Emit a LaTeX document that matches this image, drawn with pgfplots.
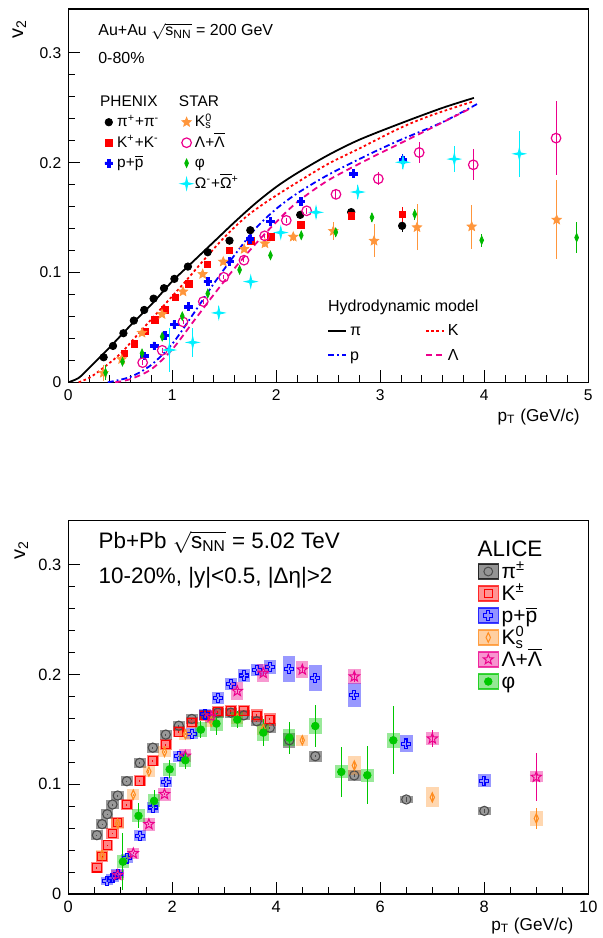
\documentclass[border=0pt]{standalone}
\usepackage{fontspec}
\setmainfont{Liberation Sans}
\usepackage{pgfplots}
\usepackage{pgfplotstable}
\pgfplotsset{compat=1.18}

\definecolor{rorange}{RGB}{255,150,60}
\definecolor{rgreen}{RGB}{0,185,0}
\definecolor{rcyan}{RGB}{0,240,255}
\definecolor{aorange}{RGB}{255,140,30}
\definecolor{agreen}{RGB}{0,200,0}

% ROOT-like markers
\pgfdeclareplotmark{fatplus}{%
  \pgfpathmoveto{\pgfpoint{-\pgfplotmarksize}{0.33\pgfplotmarksize}}%
  \pgfpathlineto{\pgfpoint{-0.33\pgfplotmarksize}{0.33\pgfplotmarksize}}%
  \pgfpathlineto{\pgfpoint{-0.33\pgfplotmarksize}{\pgfplotmarksize}}%
  \pgfpathlineto{\pgfpoint{0.33\pgfplotmarksize}{\pgfplotmarksize}}%
  \pgfpathlineto{\pgfpoint{0.33\pgfplotmarksize}{0.33\pgfplotmarksize}}%
  \pgfpathlineto{\pgfpoint{\pgfplotmarksize}{0.33\pgfplotmarksize}}%
  \pgfpathlineto{\pgfpoint{\pgfplotmarksize}{-0.33\pgfplotmarksize}}%
  \pgfpathlineto{\pgfpoint{0.33\pgfplotmarksize}{-0.33\pgfplotmarksize}}%
  \pgfpathlineto{\pgfpoint{0.33\pgfplotmarksize}{-\pgfplotmarksize}}%
  \pgfpathlineto{\pgfpoint{-0.33\pgfplotmarksize}{-\pgfplotmarksize}}%
  \pgfpathlineto{\pgfpoint{-0.33\pgfplotmarksize}{-0.33\pgfplotmarksize}}%
  \pgfpathlineto{\pgfpoint{-\pgfplotmarksize}{-0.33\pgfplotmarksize}}%
  \pgfpathclose\pgfusepathqfillstroke}
\pgfdeclareplotmark{openplus}{%
  \pgfpathmoveto{\pgfpoint{-\pgfplotmarksize}{0.33\pgfplotmarksize}}%
  \pgfpathlineto{\pgfpoint{-0.33\pgfplotmarksize}{0.33\pgfplotmarksize}}%
  \pgfpathlineto{\pgfpoint{-0.33\pgfplotmarksize}{\pgfplotmarksize}}%
  \pgfpathlineto{\pgfpoint{0.33\pgfplotmarksize}{\pgfplotmarksize}}%
  \pgfpathlineto{\pgfpoint{0.33\pgfplotmarksize}{0.33\pgfplotmarksize}}%
  \pgfpathlineto{\pgfpoint{\pgfplotmarksize}{0.33\pgfplotmarksize}}%
  \pgfpathlineto{\pgfpoint{\pgfplotmarksize}{-0.33\pgfplotmarksize}}%
  \pgfpathlineto{\pgfpoint{0.33\pgfplotmarksize}{-0.33\pgfplotmarksize}}%
  \pgfpathlineto{\pgfpoint{0.33\pgfplotmarksize}{-\pgfplotmarksize}}%
  \pgfpathlineto{\pgfpoint{-0.33\pgfplotmarksize}{-\pgfplotmarksize}}%
  \pgfpathlineto{\pgfpoint{-0.33\pgfplotmarksize}{-0.33\pgfplotmarksize}}%
  \pgfpathlineto{\pgfpoint{-\pgfplotmarksize}{-0.33\pgfplotmarksize}}%
  \pgfpathclose\pgfusepathqstroke}
\pgfdeclareplotmark{fstar}{%
  \pgfpathmoveto{\pgfpointpolar{90}{\pgfplotmarksize}}%
  \pgfpathlineto{\pgfpointpolar{126}{0.45\pgfplotmarksize}}%
  \pgfpathlineto{\pgfpointpolar{162}{\pgfplotmarksize}}%
  \pgfpathlineto{\pgfpointpolar{198}{0.45\pgfplotmarksize}}%
  \pgfpathlineto{\pgfpointpolar{234}{\pgfplotmarksize}}%
  \pgfpathlineto{\pgfpointpolar{270}{0.45\pgfplotmarksize}}%
  \pgfpathlineto{\pgfpointpolar{306}{\pgfplotmarksize}}%
  \pgfpathlineto{\pgfpointpolar{342}{0.45\pgfplotmarksize}}%
  \pgfpathlineto{\pgfpointpolar{18}{\pgfplotmarksize}}%
  \pgfpathlineto{\pgfpointpolar{54}{0.45\pgfplotmarksize}}%
  \pgfpathclose\pgfusepathqfillstroke}
\pgfdeclareplotmark{ostar}{%
  \pgfpathmoveto{\pgfpointpolar{90}{\pgfplotmarksize}}%
  \pgfpathlineto{\pgfpointpolar{126}{0.42\pgfplotmarksize}}%
  \pgfpathlineto{\pgfpointpolar{162}{\pgfplotmarksize}}%
  \pgfpathlineto{\pgfpointpolar{198}{0.42\pgfplotmarksize}}%
  \pgfpathlineto{\pgfpointpolar{234}{\pgfplotmarksize}}%
  \pgfpathlineto{\pgfpointpolar{270}{0.42\pgfplotmarksize}}%
  \pgfpathlineto{\pgfpointpolar{306}{\pgfplotmarksize}}%
  \pgfpathlineto{\pgfpointpolar{342}{0.42\pgfplotmarksize}}%
  \pgfpathlineto{\pgfpointpolar{18}{\pgfplotmarksize}}%
  \pgfpathlineto{\pgfpointpolar{54}{0.42\pgfplotmarksize}}%
  \pgfpathclose\pgfusepathqstroke}
\pgfdeclareplotmark{star4}{%
  \pgfpathmoveto{\pgfpoint{0pt}{\pgfplotmarksize}}%
  \pgfpathlineto{\pgfpoint{0.18\pgfplotmarksize}{0.18\pgfplotmarksize}}%
  \pgfpathlineto{\pgfpoint{\pgfplotmarksize}{0pt}}%
  \pgfpathlineto{\pgfpoint{0.18\pgfplotmarksize}{-0.18\pgfplotmarksize}}%
  \pgfpathlineto{\pgfpoint{0pt}{-\pgfplotmarksize}}%
  \pgfpathlineto{\pgfpoint{-0.18\pgfplotmarksize}{-0.18\pgfplotmarksize}}%
  \pgfpathlineto{\pgfpoint{-\pgfplotmarksize}{0pt}}%
  \pgfpathlineto{\pgfpoint{-0.18\pgfplotmarksize}{0.18\pgfplotmarksize}}%
  \pgfpathclose\pgfusepathqfillstroke}

% ---------- top panel: RHIC Au+Au 200 GeV ----------
\pgfplotstableread{
x y ey
0.34 0.0228 0.0005
0.43 0.0331 0.0005
0.53 0.0447 0.0005
0.63 0.0562 0.0005
0.73 0.0659 0.0005
0.82 0.0762 0.0005
0.92 0.0857 0.0005
1.02 0.0942 0.0005
1.15 0.1054 0.0005
1.34 0.1185 0.0006
1.55 0.1290 0.0008
1.75 0.1385 0.0010
2.23 0.1525 0.0020
2.72 0.1550 0.0030
3.21 0.1425 0.0060
}\phxpi
\pgfplotstableread{
x y ey
0.54 0.0264 0.001
0.635 0.0349 0.001
0.735 0.0461 0.001
0.834 0.0570 0.001
0.93 0.0660 0.001
1.03 0.0775 0.001
1.158 0.0896 0.001
1.34 0.1074 0.001
1.547 0.1199 0.0015
1.754 0.1288 0.002
1.95 0.1325 0.002
2.235 0.1434 0.003
2.725 0.1516 0.004
3.21 0.1531 0.007
}\phxk
\pgfplotstableread{
x y ey
0.733 0.0240 0.001
0.826 0.0333 0.001
0.93 0.0425 0.001
1.018 0.0526 0.001
1.157 0.0689 0.001
1.341 0.0917 0.001
1.548 0.1101 0.0015
1.747 0.1304 0.002
1.943 0.1464 0.002
2.238 0.1646 0.003
2.74 0.1900 0.004
3.218 0.2026 0.005
}\phxp
\pgfplotstableread{
x y ey
0.337 0.0085 0.007
0.513 0.0210 0.003
0.709 0.0450 0.002
0.901 0.0620 0.002
1.103 0.0826 0.002
1.292 0.0985 0.002
1.49 0.1098 0.002
1.691 0.1213 0.002
1.891 0.1264 0.003
2.163 0.1325 0.004
2.548 0.1377 0.008
2.94 0.1288 0.015
3.353 0.1411 0.021
3.879 0.1418 0.020
4.696 0.1480 0.036
}\stark
\pgfplotstableread{
x y ey
0.715 0.0179 0.002
0.903 0.0291 0.002
1.103 0.0550 0.002
1.298 0.0735 0.002
1.494 0.0957 0.002
1.689 0.1112 0.002
1.888 0.1334 0.002
2.096 0.1475 0.002
2.292 0.1562 0.003
2.574 0.1712 0.004
2.981 0.1853 0.006
3.374 0.2093 0.010
3.894 0.1981 0.014
4.690 0.2224 0.034
}\starla
\pgfplotstableread{
x y ey
0.358 0.0088 0.007
0.521 0.0188 0.004
0.709 0.0264 0.003
0.903 0.0416 0.003
1.096 0.0602 0.003
1.341 0.0808 0.003
1.647 0.1024 0.003
1.944 0.1156 0.003
2.24 0.1339 0.003
2.572 0.1367 0.004
2.92 0.1502 0.004
3.331 0.1531 0.005
3.975 0.1294 0.006
4.888 0.1318 0.014
}\starphi
\pgfplotstableread{
x y ey
0.971 0.0294 0.020
1.196 0.0363 0.013
1.447 0.0632 0.006
1.754 0.0917 0.005
2.043 0.1364 0.004
2.382 0.1548 0.005
2.784 0.1733 0.006
3.218 0.2004 0.006
3.712 0.2033 0.012
4.337 0.2081 0.021
}\starom
% hydrodynamic model curves
\pgfplotstableread{
x y
0.0 0.0
0.1 0.004
0.2 0.013
0.3 0.0225
0.4 0.032
0.6 0.052
0.8 0.071
1.0 0.092
1.2 0.110
1.4 0.128
1.6 0.146
1.8 0.163
2.0 0.178
2.2 0.1905
2.5 0.207
2.8 0.221
3.2 0.236
3.6 0.250
3.9 0.259
}\hydpi
\pgfplotstableread{
x y
0.1 0.0
0.2 0.004
0.3 0.0105
0.5 0.026
0.7 0.047
0.9 0.068
1.1 0.089
1.3 0.111
1.5 0.132
1.7 0.150
1.9 0.164
2.2 0.182
2.5 0.199
2.8 0.213
3.2 0.232
3.5 0.2435
3.9 0.256
}\hydk
\pgfplotstableread{
x y
0.38 0.0
0.6 0.005
0.8 0.016
1.0 0.035
1.2 0.062
1.4 0.090
1.6 0.116
1.8 0.140
2.0 0.158
2.2 0.172
2.5 0.189
2.9 0.208
3.2 0.221
3.6 0.237
3.93 0.2534
}\hydp
\pgfplotstableread{
x y
0.45 0.0
0.6 0.003
0.8 0.012
1.0 0.030
1.2 0.055
1.4 0.080
1.6 0.104
1.8 0.126
2.0 0.146
2.2 0.164
2.5 0.184
2.9 0.204
3.2 0.218
3.5 0.232
3.88 0.250
}\hydla

% ---------- bottom panel: ALICE Pb-Pb 5.02 TeV ----------
\pgfplotstableread{
x y ey sy
0.55 0.0536 0.0005 0.0045
0.65 0.0636 0.0005 0.0045
0.75 0.0727 0.0005 0.0045
0.85 0.0815 0.0005 0.0045
0.95 0.0897 0.0005 0.0045
1.125 0.1027 0.0005 0.0045
1.375 0.1194 0.0005 0.0045
1.625 0.1333 0.0005 0.0045
1.875 0.1452 0.0005 0.0045
2.125 0.1533 0.0005 0.0045
2.375 0.1594 0.0005 0.0045
2.625 0.1633 0.0005 0.0045
2.875 0.1652 0.0005 0.0045
3.125 0.1652 0.0006 0.0045
3.375 0.1627 0.0006 0.0045
3.625 0.1573 0.0007 0.0045
3.875 0.1515 0.0008 0.0045
4.25 0.1400 0.001 0.007
4.75 0.1255 0.001 0.005
5.5 0.1080 0.001 0.005
6.5 0.0861 0.002 0.0035
8.0 0.0757 0.002 0.0035
}\alpi
\pgfplotstableread{
x y ey sy
0.55 0.0239 0.0005 0.005
0.65 0.0340 0.0005 0.005
0.75 0.0445 0.0005 0.005
0.85 0.0552 0.0005 0.005
0.95 0.0652 0.0005 0.005
1.125 0.0815 0.0005 0.005
1.375 0.1030 0.0005 0.005
1.625 0.1212 0.0005 0.005
1.875 0.1360 0.0005 0.005
2.125 0.1476 0.0005 0.005
2.375 0.1560 0.0005 0.005
2.625 0.1627 0.0005 0.005
2.875 0.1660 0.0006 0.005
3.125 0.1667 0.0006 0.005
3.375 0.1667 0.0007 0.005
3.625 0.1627 0.0008 0.006
3.875 0.1591 0.0010 0.006
}\alk
\pgfplotstableread{
x y ey sy
0.75 0.0118 0.0005 0.004
0.85 0.0145 0.0005 0.004
0.95 0.0185 0.0005 0.004
1.125 0.0324 0.0005 0.004
1.375 0.0530 0.0005 0.005
1.625 0.0788 0.0005 0.005
1.875 0.1020 0.0005 0.005
2.125 0.1255 0.0005 0.005
2.375 0.1460 0.0005 0.005
2.625 0.1636 0.0005 0.005
2.875 0.1788 0.0006 0.0055
3.125 0.1915 0.0006 0.0055
3.375 0.1990 0.0007 0.0055
3.625 0.2043 0.0008 0.0055
3.875 0.2067 0.0010 0.0060
4.25 0.2052 0.0012 0.012
4.75 0.1970 0.0015 0.012
5.5 0.1810 0.0020 0.011
6.5 0.1370 0.0030 0.008
8.0 0.1030 0.0040 0.006
}\alp
\pgfplotstableread{
x y ey sy
0.65 0.0355 0.001 0.005
0.95 0.0642 0.001 0.005
1.25 0.0905 0.001 0.005
1.55 0.1115 0.001 0.005
1.85 0.1294 0.001 0.005
2.25 0.1455 0.001 0.005
2.75 0.1570 0.001 0.005
3.25 0.1600 0.002 0.005
3.75 0.1500 0.002 0.005
4.5 0.1400 0.002 0.005
5.5 0.1170 0.003 0.0085
7.0 0.0880 0.003 0.009
9.0 0.0688 0.0095 0.007
}\alks
\pgfplotstableread{
x y ey sy
0.95 0.0173 0.001 0.005
1.25 0.0370 0.001 0.005
1.55 0.0636 0.001 0.006
1.85 0.0909 0.001 0.006
2.25 0.1258 0.001 0.006
2.75 0.1615 0.002 0.006
3.25 0.1848 0.002 0.008
3.75 0.2012 0.002 0.008
4.5 0.2043 0.003 0.008
5.5 0.1980 0.005 0.007
7.0 0.1415 0.0075 0.006
9.0 0.1066 0.0215 0.005
}\alla
\pgfplotstableread{
x y ey sy
1.05 0.0294 0.026 0.006
1.35 0.0712 0.0115 0.006
1.65 0.0848 0.010 0.006
1.95 0.1136 0.008 0.006
2.25 0.1218 0.008 0.006
2.55 0.1497 0.008 0.007
2.85 0.1552 0.010 0.007
3.25 0.1588 0.008 0.007
3.75 0.1470 0.012 0.008
4.25 0.1424 0.0145 0.008
4.75 0.1530 0.019 0.007
5.25 0.1112 0.023 0.006
5.75 0.1082 0.0265 0.006
6.25 0.1400 0.031 0.007
}\alphi

\pgfplotsset{
  rootaxis/.style={scale only axis, width=260pt, height=186.65pt,
    ymin=0, ymax=0.34, ytick={0,0.1,0.2,0.3}, minor y tick num=4,
    tick pos=left, major tick length=6pt, minor tick length=3.5pt,
    tick style={black, line width=0.5pt}, axis line style={line width=0.6pt},
    /pgf/number format/assume math mode=true, clip=true},
  errs/.style={error bars/y dir=both, error bars/y explicit, error bars/error mark=none,
    error bars/error bar style={line width=0.5pt, solid}},
  sysbox/.style 2 args={forget plot, mark=none, draw=none, error bars/y dir=both, error bars/y explicit,
    error bars/error mark=none, error bars/error bar style={line width=6.2pt, draw=#1, draw opacity=#2, solid}},
  alimg/.style 2 args={legend image code/.code={%
    \path (0pt,0pt) (11.5pt,0pt);
    \filldraw[fill=#1, fill opacity=0.42, draw=#1, draw opacity=0.75, line width=0.6pt] (0pt,-2.75pt) rectangle (10pt,4.75pt);
    \draw[#2] plot coordinates {(5pt,1pt)};}},
}

\begin{document}
\begin{tikzpicture}
% ===== top panel, axis with hydro curves =====
\begin{axis}[rootaxis, name=topax, at={(0pt,255.85pt)}, anchor=south west,
  xmin=0, xmax=5, xtick={0,...,5}, minor x tick num=4,
  ticklabel style={font=\fontsize{7.8}{9}\selectfont},
  legend columns=2, legend cell align=left,
  legend style={at={(rel axis cs:0.4975,0.2347)}, anchor=north west, draw=none, fill=none, inner sep=0pt,
    font=\fontsize{8}{9}\selectfont, column sep=0pt, row sep=0pt,
    nodes={inner sep=0pt, text height=8pt, text depth=4.3pt}},
  legend image code/.code={\draw[#1] (0pt,0.6pt) -- (9pt,0.6pt); \path (10.5pt,0pt);}]
\addplot[forget plot, black, solid, line width=0.9pt, smooth] table[x=x,y=y]{\hydpi};
\addplot[forget plot, red, line width=0.9pt, dash pattern=on 1.3pt off 1.3pt, smooth] table[x=x,y=y]{\hydk};
\addplot[forget plot, blue, line width=0.9pt, dash pattern=on 3pt off 1.5pt on 0.9pt off 1.5pt, smooth] table[x=x,y=y]{\hydp};
\addplot[forget plot, magenta, line width=0.9pt, dash pattern=on 3pt off 2pt, smooth] table[x=x,y=y]{\hydla};
\addlegendimage{empty legend}\addlegendentry{\rlap{\hspace{-11.5pt}Hydrodynamic model}}
\addlegendimage{empty legend}\addlegendentry{}
\addlegendimage{black, solid, line width=0.9pt}\addlegendentry{\makebox[37.5pt][l]{π}}
\addlegendimage{red, line width=0.9pt, dash pattern=on 1.3pt off 1.3pt}\addlegendentry{K}
\addlegendimage{blue, line width=0.9pt, dash pattern=on 3pt off 1.5pt on 0.9pt off 1.5pt}\addlegendentry{\makebox[37.5pt][l]{p}}
\addlegendimage{magenta, line width=0.9pt, dash pattern=on 3pt off 2pt}\addlegendentry{Λ}
\node[anchor=base west, inner sep=0pt, font=\fontsize{8}{10}\selectfont] at (rel axis cs:0.057,0.928) {Au+Au $\sqrt{\mbox{s\textsubscript{NN}}}$ = 200 GeV};
\node[anchor=base west, inner sep=0pt, font=\fontsize{8}{10}\selectfont] at (rel axis cs:0.057,0.8545) {0-80\%};
\end{axis}
% ===== top panel, data =====
\begin{axis}[rootaxis, hide axis, at={(0pt,255.85pt)}, anchor=south west,
  xmin=0, xmax=5,
  legend columns=2, legend cell align=left,
  legend style={at={(rel axis cs:0.0648,0.778)}, anchor=north west, draw=none, fill=none, inner sep=0pt,
    font=\fontsize{7.7}{9}\selectfont, column sep=0pt, row sep=0pt,
    nodes={inner sep=0pt, text height=7pt, text depth=3.25pt}},
  legend image code/.code={\path (0pt,0pt) (7pt,0pt); \draw[#1] plot coordinates {(3pt,0.4pt)};}]
\addplot[forget plot, only marks, mark=*, mark size=1.85pt, black, errs] table[x=x,y=y,y error=ey]{\phxpi};
\addplot[forget plot, only marks, mark=square*, mark size=1.6pt, red, errs] table[x=x,y=y,y error=ey]{\phxk};
\addplot[forget plot, only marks, mark=fatplus, mark size=1.9pt, blue, errs] table[x=x,y=y,y error=ey]{\phxp};
\addplot[forget plot, only marks, mark=fstar, mark size=2.4pt, rorange, errs] table[x=x,y=y,y error=ey]{\stark};
\addplot[forget plot, only marks, mark=o, mark size=2.4pt, magenta, mark options={line width=0.6pt}, errs] table[x=x,y=y,y error=ey]{\starla};
\addplot[forget plot, only marks, mark=diamond*, mark size=2.1pt, rgreen, mark options={xscale=0.6}, errs] table[x=x,y=y,y error=ey]{\starphi};
\addplot[forget plot, only marks, mark=star4, mark size=3pt, rcyan, errs] table[x=x,y=y,y error=ey]{\starom};
\addlegendimage{empty legend}\addlegendentry{\hspace{-8.5pt}PHENIX}
\addlegendimage{empty legend}\addlegendentry{\hspace{-8pt}STAR}
\addlegendimage{only marks, mark=*, mark size=1.85pt, black}\addlegendentry{\makebox[31.5pt][l]{π\textsuperscript{+}+π\textsuperscript{-}}}
\addlegendimage{only marks, mark=fstar, mark size=2.4pt, rorange}\addlegendentry{K\rlap{\textsuperscript{0}}\textsubscript{s}}
\addlegendimage{only marks, mark=square*, mark size=1.6pt, red}\addlegendentry{\makebox[31.5pt][l]{K\textsuperscript{+}+K\textsuperscript{-}}}
\addlegendimage{only marks, mark=o, mark size=2.4pt, magenta, mark options={line width=0.6pt}}\addlegendentry{Λ+$\overline{\mbox{Λ}}$}
\addlegendimage{only marks, mark=fatplus, mark size=1.9pt, blue}\addlegendentry{\makebox[31.5pt][l]{p+$\overline{\mbox{p}}$}}
\addlegendimage{only marks, mark=diamond*, mark size=2.1pt, rgreen, mark options={xscale=0.6}}\addlegendentry{φ}
\addlegendimage{empty legend}\addlegendentry{}
\addlegendimage{only marks, mark=star4, mark size=3pt, rcyan}\addlegendentry{Ω\textsuperscript{-}+$\overline{\mbox{Ω}}$\textsuperscript{+}}
\end{axis}

% ===== bottom panel =====
\begin{axis}[rootaxis, name=botax, at={(0pt,0pt)}, anchor=south west,
  xmin=0, xmax=10, xtick={0,2,...,10}, minor x tick num=3,
  ticklabel style={font=\fontsize{8.2}{9}\selectfont},
  legend cell align=left,
  legend style={at={(rel axis cs:0.7865,0.948)}, anchor=north west, draw=none, fill=none, inner sep=0pt,
    font=\fontsize{10.5}{12}\selectfont, row sep=0pt,
    nodes={inner sep=0pt, text height=8.2pt, text depth=2.8pt}}]
\addplot[sysbox={black}{0.4}] table[x=x,y=y,y error=sy]{\alpi};
\addplot[sysbox={red}{0.48}] table[x=x,y=y,y error=sy]{\alk};
\addplot[sysbox={blue}{0.4}] table[x=x,y=y,y error=sy]{\alp};
\addplot[sysbox={aorange}{0.35}] table[x=x,y=y,y error=sy]{\alks};
\addplot[sysbox={magenta}{0.4}] table[x=x,y=y,y error=sy]{\alla};
\addplot[sysbox={agreen}{0.4}] table[x=x,y=y,y error=sy]{\alphi};
\addplot[forget plot, only marks, mark=o, mark size=2.3pt, black!70, mark options={line width=0.55pt}, errs] table[x=x,y=y,y error=ey]{\alpi};
\addplot[forget plot, only marks, mark=square, mark size=2.1pt, red, mark options={line width=0.55pt}, errs] table[x=x,y=y,y error=ey]{\alk};
\addplot[forget plot, only marks, mark=openplus, mark size=2.3pt, blue, mark options={line width=0.55pt}, errs] table[x=x,y=y,y error=ey]{\alp};
\addplot[forget plot, only marks, mark=diamond, mark size=2.3pt, aorange, mark options={xscale=0.62, line width=0.55pt}, errs] table[x=x,y=y,y error=ey]{\alks};
\addplot[forget plot, only marks, mark=ostar, mark size=2.7pt, magenta, mark options={line width=0.5pt}, errs] table[x=x,y=y,y error=ey]{\alla};
\addplot[forget plot, only marks, mark=*, mark size=1.9pt, agreen, errs] table[x=x,y=y,y error=ey]{\alphi};
\addlegendimage{empty legend}\addlegendentry{\hspace{-12pt}{\fontsize{11.2}{12}\selectfont ALICE}}
\addlegendimage{alimg={black}{only marks, mark=o, mark size=2.2pt, black!70, line width=0.5pt}}\addlegendentry{π\textsuperscript{±}}
\addlegendimage{alimg={red}{only marks, mark=square, mark size=2pt, red, line width=0.5pt}}\addlegendentry{K\textsuperscript{±}}
\addlegendimage{alimg={blue}{only marks, mark=openplus, mark size=2.3pt, blue, line width=0.5pt}}\addlegendentry{p+$\overline{\mbox{p}}$}
\addlegendimage{alimg={aorange}{only marks, mark=diamond, mark size=2.4pt, aorange, mark options={xscale=0.62}, line width=0.5pt}}\addlegendentry{K\rlap{\textsuperscript{0}}\textsubscript{s}}
\addlegendimage{alimg={magenta}{only marks, mark=ostar, mark size=2.6pt, magenta, line width=0.5pt}}\addlegendentry{Λ+$\overline{\mbox{Λ}}$}
\addlegendimage{alimg={agreen}{only marks, mark=*, mark size=1.9pt, agreen}}\addlegendentry{φ}
\node[anchor=base west, inner sep=0pt, font=\fontsize{11.2}{13}\selectfont] at (rel axis cs:0.0577,0.926) {Pb+Pb $\sqrt{\mbox{s\textsubscript{NN}}}$ = 5.02 TeV};
\node[anchor=base west, inner sep=0pt, font=\fontsize{11.2}{13}\selectfont] at (rel axis cs:0.0577,0.832) {10-20\%, |y|<0.5, |Δη|>2};
\end{axis}

% axis titles (ROOT placement)
\node[rotate=90, anchor=base east, font=\fontsize{10}{11}\selectfont] at ([xshift=-22.6pt,yshift=-2pt]topax.north west) {v\textsubscript{2}};
\node[rotate=90, anchor=base east, font=\fontsize{10}{11}\selectfont] at ([xshift=-21.6pt,yshift=-6.7pt]botax.north west) {v\textsubscript{2}};
\node[anchor=base east, font=\fontsize{8.6}{10}\selectfont] at ([xshift=-0.8pt,yshift=-19.4pt]topax.south east) {p\textsubscript{T} (GeV/c)};
\node[anchor=base east, font=\fontsize{8.6}{10}\selectfont] at ([xshift=-4pt,yshift=-18pt]botax.south east) {p\textsubscript{T} (GeV/c)};

\pgfresetboundingbox
\useasboundingbox (-34.15pt,-22pt) rectangle (266.85pt,447pt);
\end{tikzpicture}
\end{document}
